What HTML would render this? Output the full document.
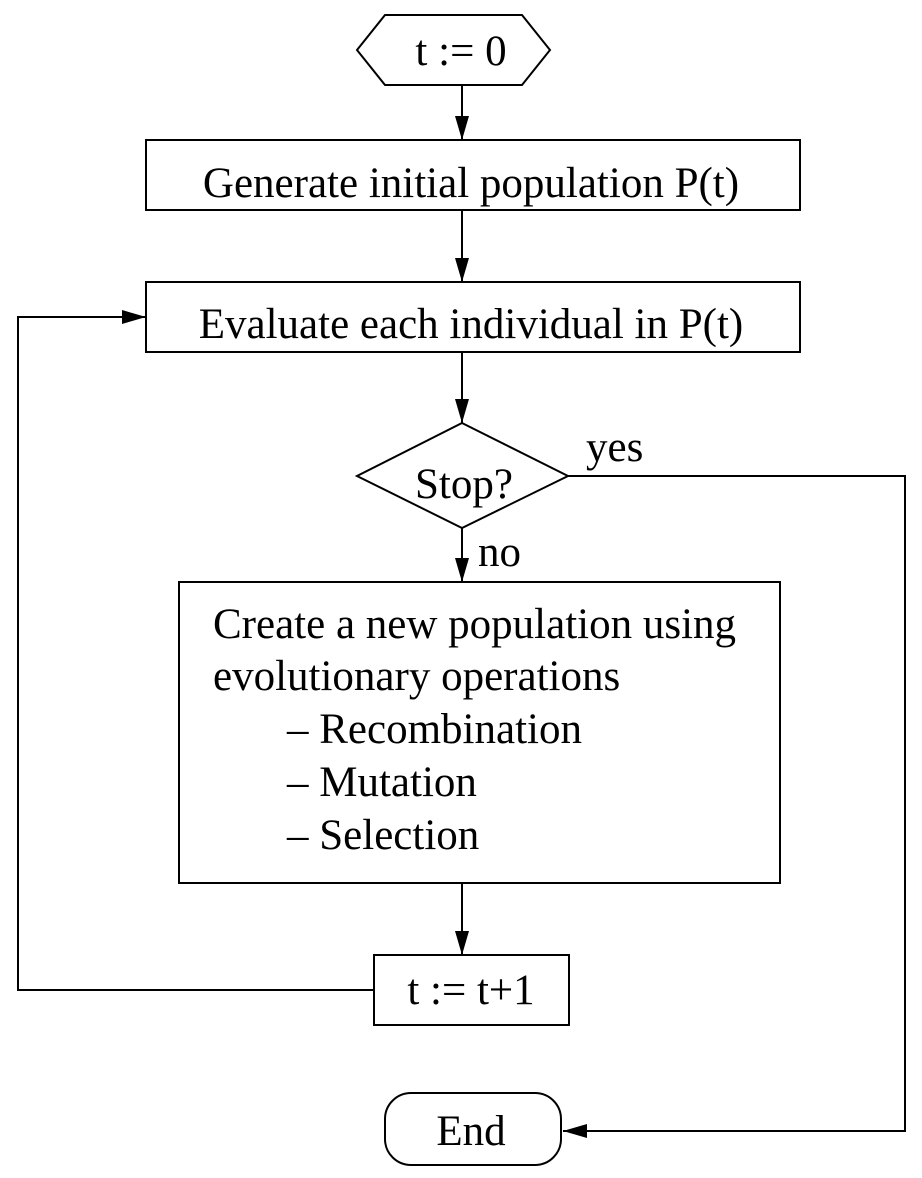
<!DOCTYPE html>
<html><head><meta charset="utf-8"><style>
html,body{margin:0;padding:0;background:#fff;}
svg{display:block;}
text{font-family:"Liberation Serif",serif;font-size:43px;fill:#000;}
</style></head><body>
<svg width="922" height="1178" viewBox="0 0 922 1178" xmlns="http://www.w3.org/2000/svg">
<defs>
<marker id="a" markerUnits="userSpaceOnUse" markerWidth="24" markerHeight="14" refX="24" refY="7" orient="auto">
<path d="M0,0 L24,7 L0,14 Z" fill="#000"/>
</marker>
</defs>
<g fill="none" stroke="#000" stroke-width="2">
<polygon points="357,50 385,15 522,15 550,50 522,85 385,85" fill="#fff"/>
<rect x="146" y="140" width="654" height="70"/>
<rect x="146" y="282" width="654" height="70"/>
<polygon points="462,423 568,476 462,528 357,476"/>
<rect x="179" y="582" width="601" height="301"/>
<rect x="374" y="955" width="195" height="70"/>
<rect x="385" y="1093" width="176" height="72" rx="26" ry="26"/>
<line x1="462" y1="85" x2="462" y2="140" marker-end="url(#a)"/>
<line x1="462" y1="210" x2="462" y2="282" marker-end="url(#a)"/>
<line x1="462" y1="352" x2="462" y2="423" marker-end="url(#a)"/>
<line x1="462" y1="528" x2="462" y2="582" marker-end="url(#a)"/>
<line x1="462" y1="883" x2="462" y2="955" marker-end="url(#a)"/>
<polyline points="568,476 905,476 905,1131 563,1131" marker-end="url(#a)"/>
<polyline points="374,990 18,990 18,317 146,317" marker-end="url(#a)"/>
</g>
<text x="461" y="65" text-anchor="middle">t := 0</text>
<text x="471" y="197" text-anchor="middle">Generate initial population P(t)</text>
<text x="471" y="338" text-anchor="middle">Evaluate each individual in P(t)</text>
<text x="464" y="498" text-anchor="middle">Stop?</text>
<text x="586" y="461">yes</text>
<text x="478" y="566">no</text>
<text x="213" y="638">Create a new population using</text>
<text x="213" y="690">evolutionary operations</text>
<text x="287" y="743">– Recombination</text>
<text x="287" y="796">– Mutation</text>
<text x="287" y="849">– Selection</text>
<text x="471" y="1004" text-anchor="middle">t := t+1</text>
<text x="471" y="1145" text-anchor="middle">End</text>
</svg>
</body></html>
